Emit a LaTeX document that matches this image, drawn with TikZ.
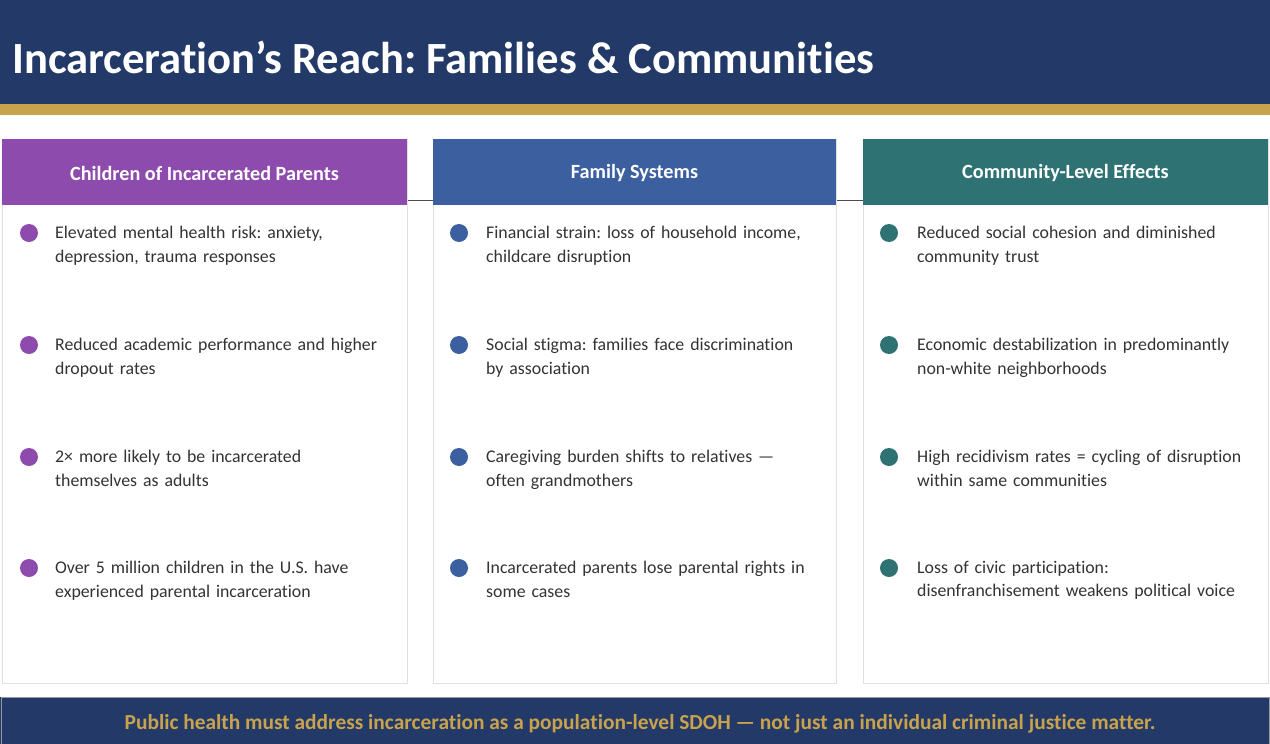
\documentclass[tikz,border=0pt]{standalone}
\usepackage{fontspec}
\setmainfont{Carlito}[Ligatures=NoCommon]
\frenchspacing
\definecolor{navy}{HTML}{233A69}
\definecolor{gold}{HTML}{C9A24C}
\definecolor{cpur}{HTML}{8E4BAE}
\definecolor{cblu}{HTML}{3C5FA0}
\definecolor{ctea}{HTML}{2F7274}
\definecolor{txt}{HTML}{333333}
\begin{document}
\begin{tikzpicture}[x=1pt,y=-1pt,
  colbody/.style={draw=black!12,fill=white},
  bul/.style={circle,minimum size=18pt,inner sep=0pt},
  item/.style={anchor=north west,align=left,text width=345pt,font=\fontsize{17.8}{23.5}\selectfont,text=txt,inner sep=0pt},
  hdr/.style={text=white,font=\bfseries\fontsize{20.2}{22}\selectfont}]
\useasboundingbox (0,0) rectangle (1270,744);
\fill[white] (0,0) rectangle (1270,744);
\fill[navy] (0,0) rectangle (1270,104);
\fill[gold] (0,104) rectangle (1270,115);
\node[anchor=west,text=white,font=\bfseries\fontsize{44.6}{50}\selectfont,inner sep=0pt] (title) at (12,57) {Incarceration{\char"27}s Reach: Families \& Communities};
% connectors
\draw[black!70,line width=0.8pt] (407,200) -- (433,200) (836,200) -- (863,200);
\foreach \x/\w/\c/\t/\n in {2/405/cpur/Children of Incarcerated Parents/a,433/403/cblu/Family Systems/b,863/405/ctea/Community-Level Effects/c}{
  \draw[colbody] (\x,139) rectangle ++(\w,544);
  \fill[\c] (\x,139) rectangle ++(\w,66);
  \node[hdr] (h\n) at (\x+\w/2,173) {\t};
}
\foreach \y/\t [count=\i] in {226/{Elevated mental health risk: anxiety,\\depression, trauma responses},338/{Reduced academic performance and higher\\dropout rates},450/{2× more likely to be incarcerated\\themselves as adults},561/{Over 5 million children in the U.S. have\\experienced parental incarceration}}{
  \node[bul,fill=cpur] (ba\i) at (29,\y+7) {};
  \node[item] (ta\i) at (55,\y) {\t};
}
\foreach \y/\t [count=\i] in {226/{Financial strain: loss of household income,\\childcare disruption},338/{Social stigma: families face discrimination\\by association},450/{Caregiving burden shifts to relatives —\\often grandmothers},561/{Incarcerated parents lose parental rights in\\some cases}}{
  \node[bul,fill=cblu] (bb\i) at (459,\y+7) {};
  \node[item] (tb\i) at (486,\y) {\t};
}
\foreach \y/\t [count=\i] in {226/{Reduced social cohesion and diminished\\community trust},338/{Economic destabilization in predominantly\\non-white neighborhoods},450/{High recidivism rates = cycling of disruption\\within same communities},561/{Loss of civic participation:\\disenfranchisement weakens political voice}}{
  \node[bul,fill=ctea] (bc\i) at (889,\y+7) {};
  \node[item] (tc\i) at (917,\y) {\t};
}
\fill[navy] (0,697) rectangle (1270,744);
\draw[black!40] (1,697) rectangle (1269,744);
\node[text=gold,font=\bfseries\fontsize{21.4}{24}\selectfont] (foot) at (640,724) {Public health must address incarceration as a population-level SDOH — not just an individual criminal justice matter.};
\end{tikzpicture}
\end{document}
